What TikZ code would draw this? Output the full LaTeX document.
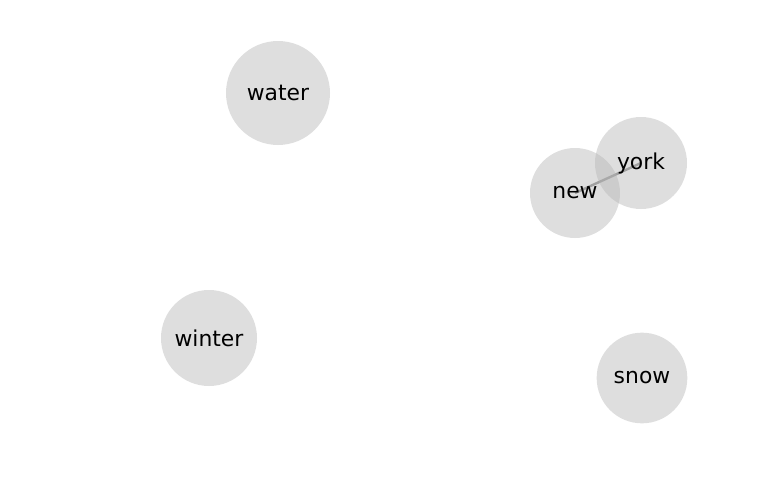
\documentclass[tikz,border=0pt]{standalone}
\usepackage{fontspec}
\setmainfont{DejaVu Sans}
\usetikzlibrary{backgrounds}
\definecolor{nodegray}{RGB}{180,180,180}
\definecolor{edgegray}{RGB}{110,110,110}

\begin{document}
\begin{tikzpicture}[x=0.75pt,y=-0.75pt,
    word/.style={circle, fill=nodegray, fill opacity=0.44, text opacity=1,
      inner sep=0pt, font=\fontsize{16.4}{19}\selectfont},
    link/.style={draw=edgegray, line width=1.8pt, opacity=0.75}]
    % Fix the page size (pixels of the reference)
    \useasboundingbox (0,0) rectangle (769,500);

    % Draw the word nodes
    \node[word, minimum size=78pt] (water) at (278,93) {water};
    \node[word, minimum size=69pt] (york) at (641,163) {york};
    \node[word, minimum size=67.5pt] (new) at (575,193) {new};
    \node[word, minimum size=72pt] (winter) at (209,338) {winter};
    \node[word, minimum size=68pt] (snow) at (642,378) {snow};

    % Draw the edge behind the nodes
    \begin{pgfonlayer}{background}
      \draw[link] (new.center) -- (york.center);
    \end{pgfonlayer}
\end{tikzpicture}
\end{document}
